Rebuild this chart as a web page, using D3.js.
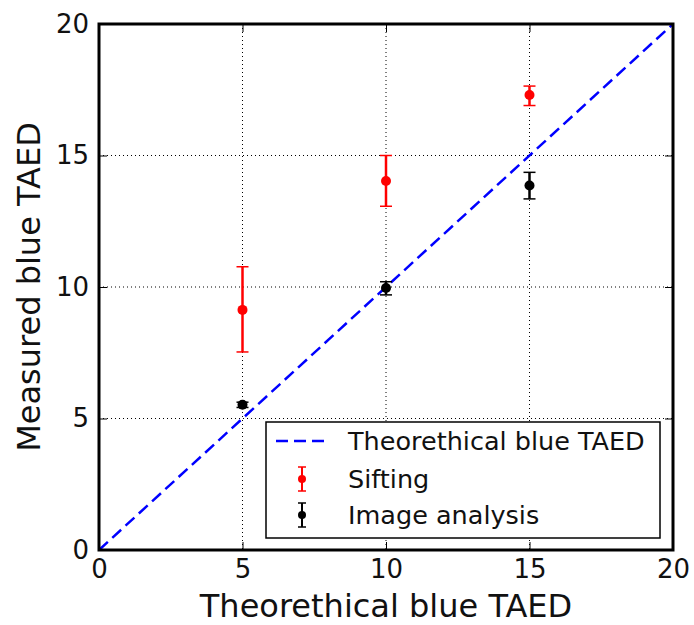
<!DOCTYPE html>
<html><head><meta charset="utf-8">
<script src="https://cdn.jsdelivr.net/npm/d3@7"></script>
<style>body{margin:0;background:#fff}svg{display:block}text{font-family:"DejaVu Sans",sans-serif}</style>
</head><body><svg id="c" width="694" height="625"></svg>
<script>
const ticks = [0, 5, 10, 15, 20];
const theoretical = [0, 20];
const siftX = [5, 10, 15];
const siftY = [9.13, 14.03, 17.3];
const siftLo = [7.53, 13.07, 16.9];
const siftHi = [10.77, 15.0, 17.64];
const imgX = [5, 10, 15];
const imgY = [5.52, 9.96, 13.86];
const imgLo = [5.42, 9.7, 13.35];
const imgHi = [5.62, 10.2, 14.36];
const legendLabels = ["Theorethical blue TAED", "Sifting", "Image analysis"];

const svg = d3.select("#c");
const L = 99, R = 673, T = 24, B = 550;
const x = d3.scaleLinear().domain([0, 20]).range([L, R]);
const y = d3.scaleLinear().domain([0, 20]).range([B, T]);

// grid
const g = svg.append("g");
ticks.slice(1, -1).forEach(t => {
  g.append("line").attr("x1", x(t)).attr("x2", x(t)).attr("y1", T).attr("y2", B)
    .attr("stroke", "#000").attr("stroke-width", 1).attr("stroke-dasharray", "1,3");
  g.append("line").attr("y1", y(t)).attr("y2", y(t)).attr("x1", L).attr("x2", R)
    .attr("stroke", "#000").attr("stroke-width", 1).attr("stroke-dasharray", "1,3");
});

// axes (ticks inward)
const ax = (gen, tr) => svg.append("g").attr("transform", tr).call(gen)
  .call(s => s.select(".domain").remove());
const bot = ax(d3.axisBottom(x).tickValues(ticks).tickSize(-8).tickPadding(10).tickFormat(d3.format("d")), `translate(0,${B})`);
const lef = ax(d3.axisLeft(y).tickValues(ticks).tickSize(-8).tickPadding(10).tickFormat(d3.format("d")), `translate(${L},0)`);
ax(d3.axisTop(x).tickValues(ticks).tickSize(-8).tickFormat(""), `translate(0,${T})`);
ax(d3.axisRight(y).tickValues(ticks).tickSize(-8).tickFormat(""), `translate(${R},0)`);
svg.selectAll(".tick line").attr("stroke", "#000").attr("stroke-width", 1);
svg.selectAll(".tick text").attr("font-size", 26).attr("fill", "#111").style("font-family", "DejaVu Sans");
bot.selectAll(".tick text").attr("dy", "0.71em");

// diagonal
const line = d3.line().x(d => x(d)).y(d => y(d));
svg.append("path").attr("d", line(theoretical)).attr("fill", "none")
  .attr("stroke", "#0000ff").attr("stroke-width", 2.5).attr("stroke-dasharray", "12,6");

function errSeries(xs, ys, lo, hi, color) {
  const s = svg.append("g");
  xs.forEach((xv, i) => {
    s.append("line").attr("x1", x(xv)).attr("x2", x(xv)).attr("y1", y(lo[i])).attr("y2", y(hi[i]))
      .attr("stroke", color).attr("stroke-width", 2.5);
    [lo[i], hi[i]].forEach(v => s.append("line").attr("x1", x(xv) - 6).attr("x2", x(xv) + 6)
      .attr("y1", y(v)).attr("y2", y(v)).attr("stroke", color).attr("stroke-width", 1.5));
    s.append("circle").attr("cx", x(xv)).attr("cy", y(ys[i])).attr("r", 5).attr("fill", color);
  });
}
errSeries(siftX, siftY, siftLo, siftHi, "#ff0000");
errSeries(imgX, imgY, imgLo, imgHi, "#000000");

// frame
svg.append("rect").attr("x", L).attr("y", T).attr("width", R - L).attr("height", B - T)
  .attr("fill", "none").attr("stroke", "#000").attr("stroke-width", 3);

// legend
const lg = svg.append("g");
lg.append("rect").attr("x", 266).attr("y", 422).attr("width", 394).attr("height", 116)
  .attr("fill", "#fff").attr("stroke", "#000").attr("stroke-width", 1.5);
const rows = [441, 479, 515];
lg.append("line").attr("x1", 276).attr("x2", 326).attr("y1", rows[0]).attr("y2", rows[0])
  .attr("stroke", "#0000ff").attr("stroke-width", 2.5).attr("stroke-dasharray", "12,6");
[["#ff0000", rows[1]], ["#000", rows[2]]].forEach(([c, yy]) => {
  lg.append("line").attr("x1", 302).attr("x2", 302).attr("y1", yy - 12).attr("y2", yy + 12).attr("stroke", c).attr("stroke-width", 2);
  [yy - 12, yy + 12].forEach(v => lg.append("line").attr("x1", 298).attr("x2", 306).attr("y1", v).attr("y2", v).attr("stroke", c).attr("stroke-width", 1.5));
  lg.append("circle").attr("cx", 302).attr("cy", yy).attr("r", 4).attr("fill", c);
});
legendLabels.forEach((t, i) => lg.append("text").attr("x", 348).attr("y", rows[i]).attr("dy", "0.35em")
  .attr("font-size", 25.5).attr("fill", "#111").text(t));

// axis labels
svg.append("text").attr("x", (L + R) / 2).attr("y", 617).attr("text-anchor", "middle")
  .attr("font-size", 32).attr("fill", "#111").text("Theorethical blue TAED");
svg.append("text").attr("transform", `translate(40,${(T + B) / 2}) rotate(-90)`).attr("text-anchor", "middle")
  .attr("font-size", 32).attr("fill", "#111").text("Measured blue TAED");
</script></body></html>
